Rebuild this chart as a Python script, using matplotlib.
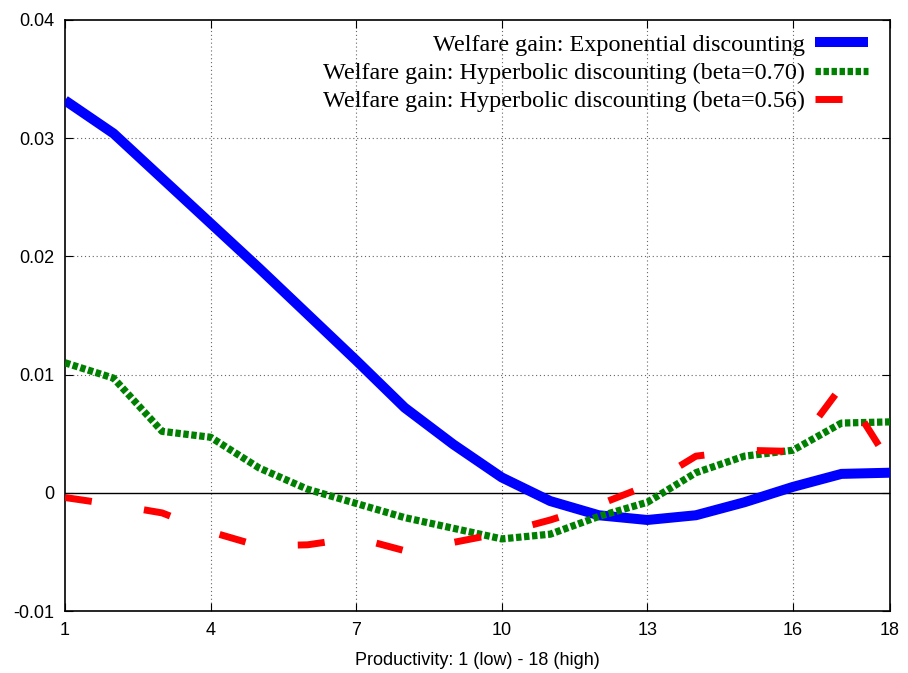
import numpy as np
import matplotlib
matplotlib.use("Agg")
import matplotlib.pyplot as plt

# productivity levels 1..18
productivity = list(range(1, 19))

# welfare gains
exponential = [0.0332, 0.0304, 0.0266, 0.0228, 0.0190, 0.0151, 0.0112, 0.0072,
               0.0041, 0.0013, -0.0007, -0.0019, -0.0023, -0.0019, -0.0008,
               0.0005, 0.0016, 0.0017]
hyper_070 = [0.0110, 0.0097, 0.0052, 0.0047, 0.0021, 0.0003, -0.0009, -0.0021,
             -0.0030, -0.0039, -0.0035, -0.0020, -0.0008, 0.0017, 0.0031,
             0.0036, 0.0059, 0.0060]
hyper_056 = [-0.0004, -0.0010, -0.0017, -0.0033, -0.0045, -0.0044, -0.0038,
             -0.0049, -0.0042, -0.0034, -0.0023, -0.0010, 0.0006, 0.0031,
             0.0036, 0.0035, 0.0090, 0.0025]

labels = ['Welfare gain: Exponential discounting',
          'Welfare gain: Hyperbolic discounting (beta=0.70)',
          'Welfare gain: Hyperbolic discounting (beta=0.56)']

xticks = [1, 4, 7, 10, 13, 16, 18]
yticks = [-0.01, 0, 0.01, 0.02, 0.03, 0.04]
ytick_labels = ['-0.01', '0', '0.01', '0.02', '0.03', '0.04']

fig = plt.figure(figsize=(9.08, 6.73), dpi=100)
ax = fig.add_axes([65/908, 1 - 611/673, 825/908, 591/673])

# grid and zero line
for xt in xticks[1:-1]:
    ax.axvline(xt, color='#666666', lw=0.8, ls=(0, (1, 2.5)), zorder=1)
for yt in yticks[1:-1]:
    if yt == 0:
        ax.axhline(0, color='black', lw=1.0, zorder=1)
    else:
        ax.axhline(yt, color='#666666', lw=0.8, ls=(0, (1, 2.5)), zorder=1)

ax.plot(productivity, exponential, color='#0000ff', lw=7.2,
        solid_joinstyle='miter', solid_capstyle='butt', label=labels[0], zorder=3)
ax.plot(productivity, hyper_070, color='#008000', lw=5.2,
        ls=(0, (0.75, 0.36)), dash_capstyle='butt', label=labels[1], zorder=3)
ax.plot(productivity, hyper_056, color='#ff0000', lw=5.0,
        ls=(0, (3.9, 7.6)), dash_capstyle='butt', label=labels[2], zorder=3)

ax.set_xlim(1, 18)
ax.set_ylim(-0.01, 0.04)
ax.set_xticks(xticks)
ax.set_yticks(yticks)
ax.set_yticklabels(ytick_labels)
ax.tick_params(direction='in', top=True, right=True, length=6, width=0.8,
               labelsize=13, pad=8)
for lab in ax.get_xticklabels() + ax.get_yticklabels():
    lab.set_family('Liberation Sans')
for sp in ax.spines.values():
    sp.set_linewidth(1.2)

ax.set_xlabel('Productivity: 1 (low) - 18 (high)', fontsize=13,
              family='Liberation Sans', labelpad=9)

leg = ax.legend(loc='upper right', bbox_to_anchor=(1 - 22/825, 1 - 14/591),
                frameon=False, markerfirst=False,
                prop={'family': 'Liberation Serif', 'size': 17.4},
                handlelength=2.2, handletextpad=0.4, labelspacing=0.26,
                borderaxespad=0, borderpad=0)

fig.savefig('out.png', dpi=100)
